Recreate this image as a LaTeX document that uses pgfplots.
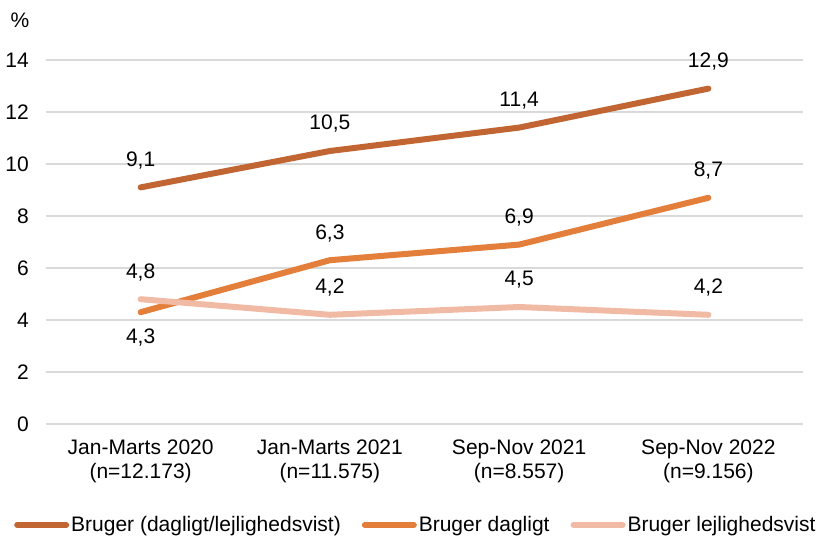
\documentclass[border=0pt]{standalone}
\usepackage{pgfplots}
\pgfplotsset{compat=1.18}
\usepackage{fontspec}
\setmainfont{Liberation Sans}

\definecolor{cdark}{RGB}{193,101,50}
\definecolor{cmid}{RGB}{227,126,59}
\definecolor{clight}{RGB}{240,186,164}
\definecolor{cgrid}{RGB}{217,217,217}

% survey share (%), one table per series; dy = label offset
\pgfplotstableread{
x y dy
0 9.1 27
1 10.5 27
2 11.4 27
3 12.9 27
}\tabBoth
\pgfplotstableread{
x y dy
0 4.3 -25
1 6.3 27
2 6.9 27
3 8.7 27
}\tabDaily
\pgfplotstableread{
x y dy
0 4.8 27
1 4.2 27
2 4.5 27
3 4.2 27
}\tabOccasional

\newcommand\chartfont{\fontsize{21}{23.5}\selectfont}

\begin{document}
\chartfont
\begin{tikzpicture}
\begin{axis}[
  at={(0,0)}, anchor=south west,
  scale only axis, width=757pt, height=364pt,
  xmin=-0.5, xmax=3.5, ymin=0, ymax=14,
  ytick={0,2,...,14},
  xtick={0,1,2,3},
  xticklabels={{Jan-Marts 2020\\(n=12.173)},{Jan-Marts 2021\\(n=11.575)},{Sep-Nov 2021\\(n=8.557)},{Sep-Nov 2022\\(n=9.156)}},
  xticklabel style={align=center, font=\chartfont, yshift=-9pt},
  yticklabel style={font=\chartfont, xshift=-10pt},
  /pgf/number format/assume math mode=true,
  axis line style={draw=none},
  major tick style={draw=none},
  ymajorgrids, grid style={cgrid, line width=1.5pt},
  clip=false,
  nodes near coords={\pgfmathprintnumber[fixed,fixed zerofill,precision=1,use comma,assume math mode=true]{\pgfplotspointmeta}},
  visualization depends on={\thisrow{dy} \as \dy},
  every node near coord/.append style={anchor=center, yshift=\dy, font=\chartfont, black},
  legend columns=3,
  legend style={draw=none, fill=none, at={(-32pt,-101pt)}, anchor=west,
    font=\chartfont, inner sep=0pt,
    /tikz/every even column/.append style={column sep=19pt}},
  legend image code/.code={\draw[#1, line width=6pt, line cap=round] (0pt,0pt) -- (49pt,0pt);},
  every axis plot/.append style={line width=6pt, line cap=round, line join=round, mark=none},
]
\addplot[cdark] table[x=x, y=y] {\tabBoth};
\addlegendentry{Bruger (dagligt/lejlighedsvist)}
\addplot[cmid] table[x=x, y=y] {\tabDaily};
\addlegendentry{Bruger dagligt}
\addplot[clight] table[x=x, y=y] {\tabOccasional};
\addlegendentry{Bruger lejlighedsvist}
\end{axis}
\node at (-26pt,404pt) {\chartfont\%};
\pgfresetboundingbox
\path[use as bounding box] (-46pt,-112pt) rectangle (774pt,424pt);
\end{tikzpicture}
\end{document}
